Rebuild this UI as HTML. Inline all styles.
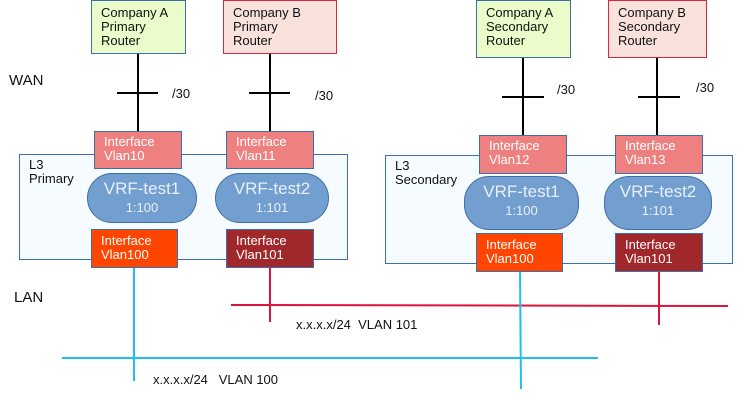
<!DOCTYPE html>
<html><head><meta charset="utf-8"><style>
body{margin:0;width:756px;height:400px;background:#fff;position:relative;overflow:hidden;font-family:"Liberation Sans",sans-serif;}
.b{position:absolute;box-sizing:border-box;font-size:13px;line-height:14px;}
.r{border:1px solid #3f6fa8;padding:2px 0 0 9px;color:#111;}
.ga{background:#ebfccb;}
.gb{background:#f9e2dc;border-color:#d4283c;}
.iv{background:#ee8080;border:1px solid #3f6fa8;color:#fff;padding:3px 0 0 9px;}
.io{background:#ff4500;border:1px solid #3f6fa8;color:#fff;padding:4px 0 0 9px;}
.id{background:#a0282a;border:1px solid #3f6fa8;color:#fff;padding:4px 0 0 9px;}
.l3{border:1px solid #3f6fa8;background:#f6fbff;padding:3px 0 0 9px;color:#111;}
.vrf{background:#729fcf;border:1px solid #3f6fa8;border-radius:25px;color:#e8f0fa;text-align:center;font-size:17px;line-height:18px;padding-top:6px;}
.vrf span{font-size:13px;}
.t{position:absolute;font-size:13px;color:#111;}
</style></head><body>
<div class="b l3" style="left:19px;top:154px;width:329px;height:106px">L3<br>Primary</div>
<div class="b l3" style="left:385px;top:155px;width:348px;height:109px">L3<br>Secondary</div>
<svg width="756" height="400" style="position:absolute;left:0;top:0">
<g stroke="#000" stroke-width="2">
<line x1="138" y1="53" x2="138" y2="131"/><line x1="117" y1="93" x2="158" y2="93"/>
<line x1="270" y1="53" x2="270" y2="131"/><line x1="249" y1="93" x2="290" y2="93"/>
<line x1="523" y1="57" x2="523" y2="135"/><line x1="502" y1="97" x2="544" y2="97"/>
<line x1="657" y1="57" x2="657" y2="135"/><line x1="638" y1="97" x2="680" y2="97"/>
</g>
<g stroke="#dc143c" stroke-width="2">
<line x1="231" y1="305" x2="728" y2="306"/>
<line x1="270" y1="267" x2="270" y2="322"/>
<line x1="659" y1="271" x2="659" y2="325"/>
</g>
<g stroke="#1ec0f0" stroke-width="2">
<line x1="62" y1="358" x2="598" y2="358"/>
<line x1="134" y1="267" x2="134" y2="381"/>
<line x1="520" y1="271" x2="521" y2="389"/>
</g>
</svg>
<div class="b r ga" style="left:91px;top:0;width:95px;height:54px;padding-top:5px">Company A<br>Primary<br>Router</div>
<div class="b r gb" style="left:223px;top:0;width:114px;height:54px;padding-top:5px">Company B<br>Primary<br>Router</div>
<div class="b r ga" style="left:476px;top:0;width:95px;height:58px;padding-top:5px">Company A<br>Secondary<br>Router</div>
<div class="b r gb" style="left:608px;top:0;width:99px;height:58px;padding-top:5px">Company B<br>Secondary<br>Router</div>
<div class="b iv" style="left:94px;top:131px;width:88px;height:38px">Interface<br>Vlan10</div>
<div class="b iv" style="left:226px;top:131px;width:88px;height:38px">Interface<br>Vlan11</div>
<div class="b iv" style="left:479px;top:135px;width:88px;height:39px">Interface<br>Vlan12</div>
<div class="b iv" style="left:615px;top:135px;width:88px;height:39px">Interface<br>Vlan13</div>
<div class="b vrf" style="left:87px;top:173px;width:110px;height:50px">VRF-test1<br><span>1:100</span></div>
<div class="b vrf" style="left:215px;top:173px;width:114px;height:50px">VRF-test2<br><span>1:101</span></div>
<div class="b vrf" style="left:464px;top:176px;width:115px;height:54px">VRF-test1<br><span>1:100</span></div>
<div class="b vrf" style="left:604px;top:176px;width:108px;height:54px">VRF-test2<br><span>1:101</span></div>
<div class="b io" style="left:91px;top:229px;width:87px;height:39px">Interface<br>Vlan100</div>
<div class="b id" style="left:226px;top:229px;width:88px;height:39px">Interface<br>Vlan101</div>
<div class="b io" style="left:476px;top:233px;width:87px;height:39px">Interface<br>Vlan100</div>
<div class="b id" style="left:615px;top:233px;width:88px;height:39px">Interface<br>Vlan101</div>
<div class="t" style="left:9px;top:72px;font-size:15px">WAN</div>
<div class="t" style="left:14px;top:289px;font-size:15px">LAN</div>
<div class="t" style="left:172px;top:86px">/30</div>
<div class="t" style="left:315px;top:88px">/30</div>
<div class="t" style="left:557px;top:82px">/30</div>
<div class="t" style="left:696px;top:80px">/30</div>
<div class="t" style="left:296px;top:317px">x.x.x.x/24&nbsp; VLAN 101</div>
<div class="t" style="left:153px;top:372px">x.x.x.x/24&nbsp;&nbsp; VLAN 100</div>
</body></html>
